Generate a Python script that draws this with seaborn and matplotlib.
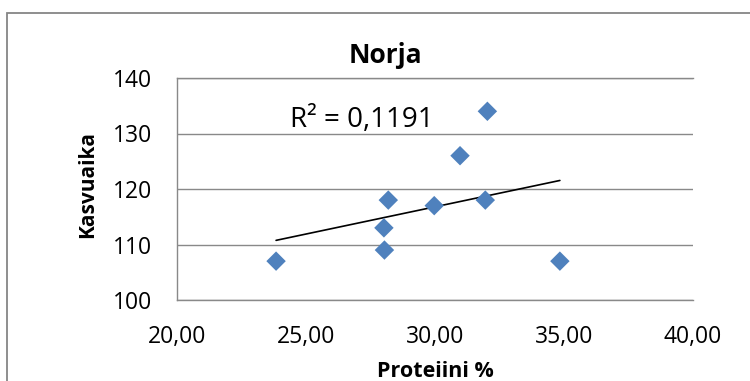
import matplotlib
matplotlib.use("Agg")
import matplotlib.pyplot as plt
import seaborn as sns
import pandas as pd
from matplotlib.patches import Rectangle

# Data
protein = [23.84, 28.19, 28.02, 28.04, 29.97, 30.97, 32.03, 31.95, 34.84]
kasvuaika = [107, 118, 113, 109, 117, 126, 134, 118, 107]
x_ticks = [20, 25, 30, 35, 40]
x_tick_labels = ["20,00", "25,00", "30,00", "35,00", "40,00"]
y_ticks = [100, 110, 120, 130, 140]
title = "Norja"
x_label = "Proteiini %"
y_label = "Kasvuaika"
r2_text = "R² = 0,1191"

sns.set_theme(style="white")
plt.rcParams["font.family"] = ["Open Sans", "DejaVu Sans"]
plt.rcParams["text.color"] = "black"
plt.rcParams["axes.labelcolor"] = "black"

df = pd.DataFrame({"Proteiini": protein, "Kasvuaika": kasvuaika})

fig = plt.figure(figsize=(7.5, 3.81), dpi=100)
ax = fig.add_axes([177 / 750, 81 / 381, 516 / 750, 222 / 381])

grid_color = "#898989"
diamond = [(0, 1), (1, 0), (0, -1), (-1, 0)]

sns.regplot(data=df, x="Proteiini", y="Kasvuaika", scatter=False, ci=None,
            truncate=True, color="black", line_kws={"linewidth": 1.2, "zorder": 3}, ax=ax)
sns.scatterplot(data=df, x="Proteiini", y="Kasvuaika", marker=diamond, s=196,
                color="#4F81BD", edgecolor="none", linewidth=0, zorder=4, ax=ax)

ax.set_xlim(20, 40)
ax.set_ylim(100, 140)
ax.set_xticks(x_ticks)
ax.set_xticklabels(x_tick_labels)
ax.set_yticks(y_ticks)
ax.set_yticklabels([str(v) for v in y_ticks])
ax.tick_params(axis="both", length=0, labelsize=16.5, colors="black")
ax.tick_params(axis="y", pad=18)
ax.tick_params(axis="x", pad=18)

ax.grid(axis="y", color=grid_color, linewidth=1.0)
ax.grid(axis="x", visible=False)
for side in ["left", "top", "bottom"]:
    ax.spines[side].set_visible(True)
    ax.spines[side].set_color(grid_color)
    ax.spines[side].set_linewidth(1.0)
ax.spines["right"].set_visible(False)

ax.set_xlabel(x_label, fontsize=15.5, fontweight="bold", color="black")
ax.xaxis.label.set_va("baseline")
ax.xaxis.set_label_coords(0.5, -(377 - 300) / 222)
ax.set_ylabel(y_label, fontsize=15, fontweight="bold", color="black")
ax.yaxis.label.set_va("center")
ax.yaxis.set_label_coords((88 - 177) / 516, (300 - 185) / 222)

fig.text(385 / 750, 1 - 63 / 381, title, ha="center", va="baseline",
         fontsize=19, fontweight="bold", color="black")
ax.text((290 - 177) / 516, (300 - 126.5) / 222, r2_text, transform=ax.transAxes,
        ha="left", va="baseline", fontsize=20, color="black")

fig.add_artist(Rectangle((7 / 750, -0.2), 1.5, 1.2 - 12.7 / 381, transform=fig.transFigure,
                         fill=False, edgecolor="#868686", linewidth=1.3, clip_on=False))

fig.savefig("out.png", dpi=100)
